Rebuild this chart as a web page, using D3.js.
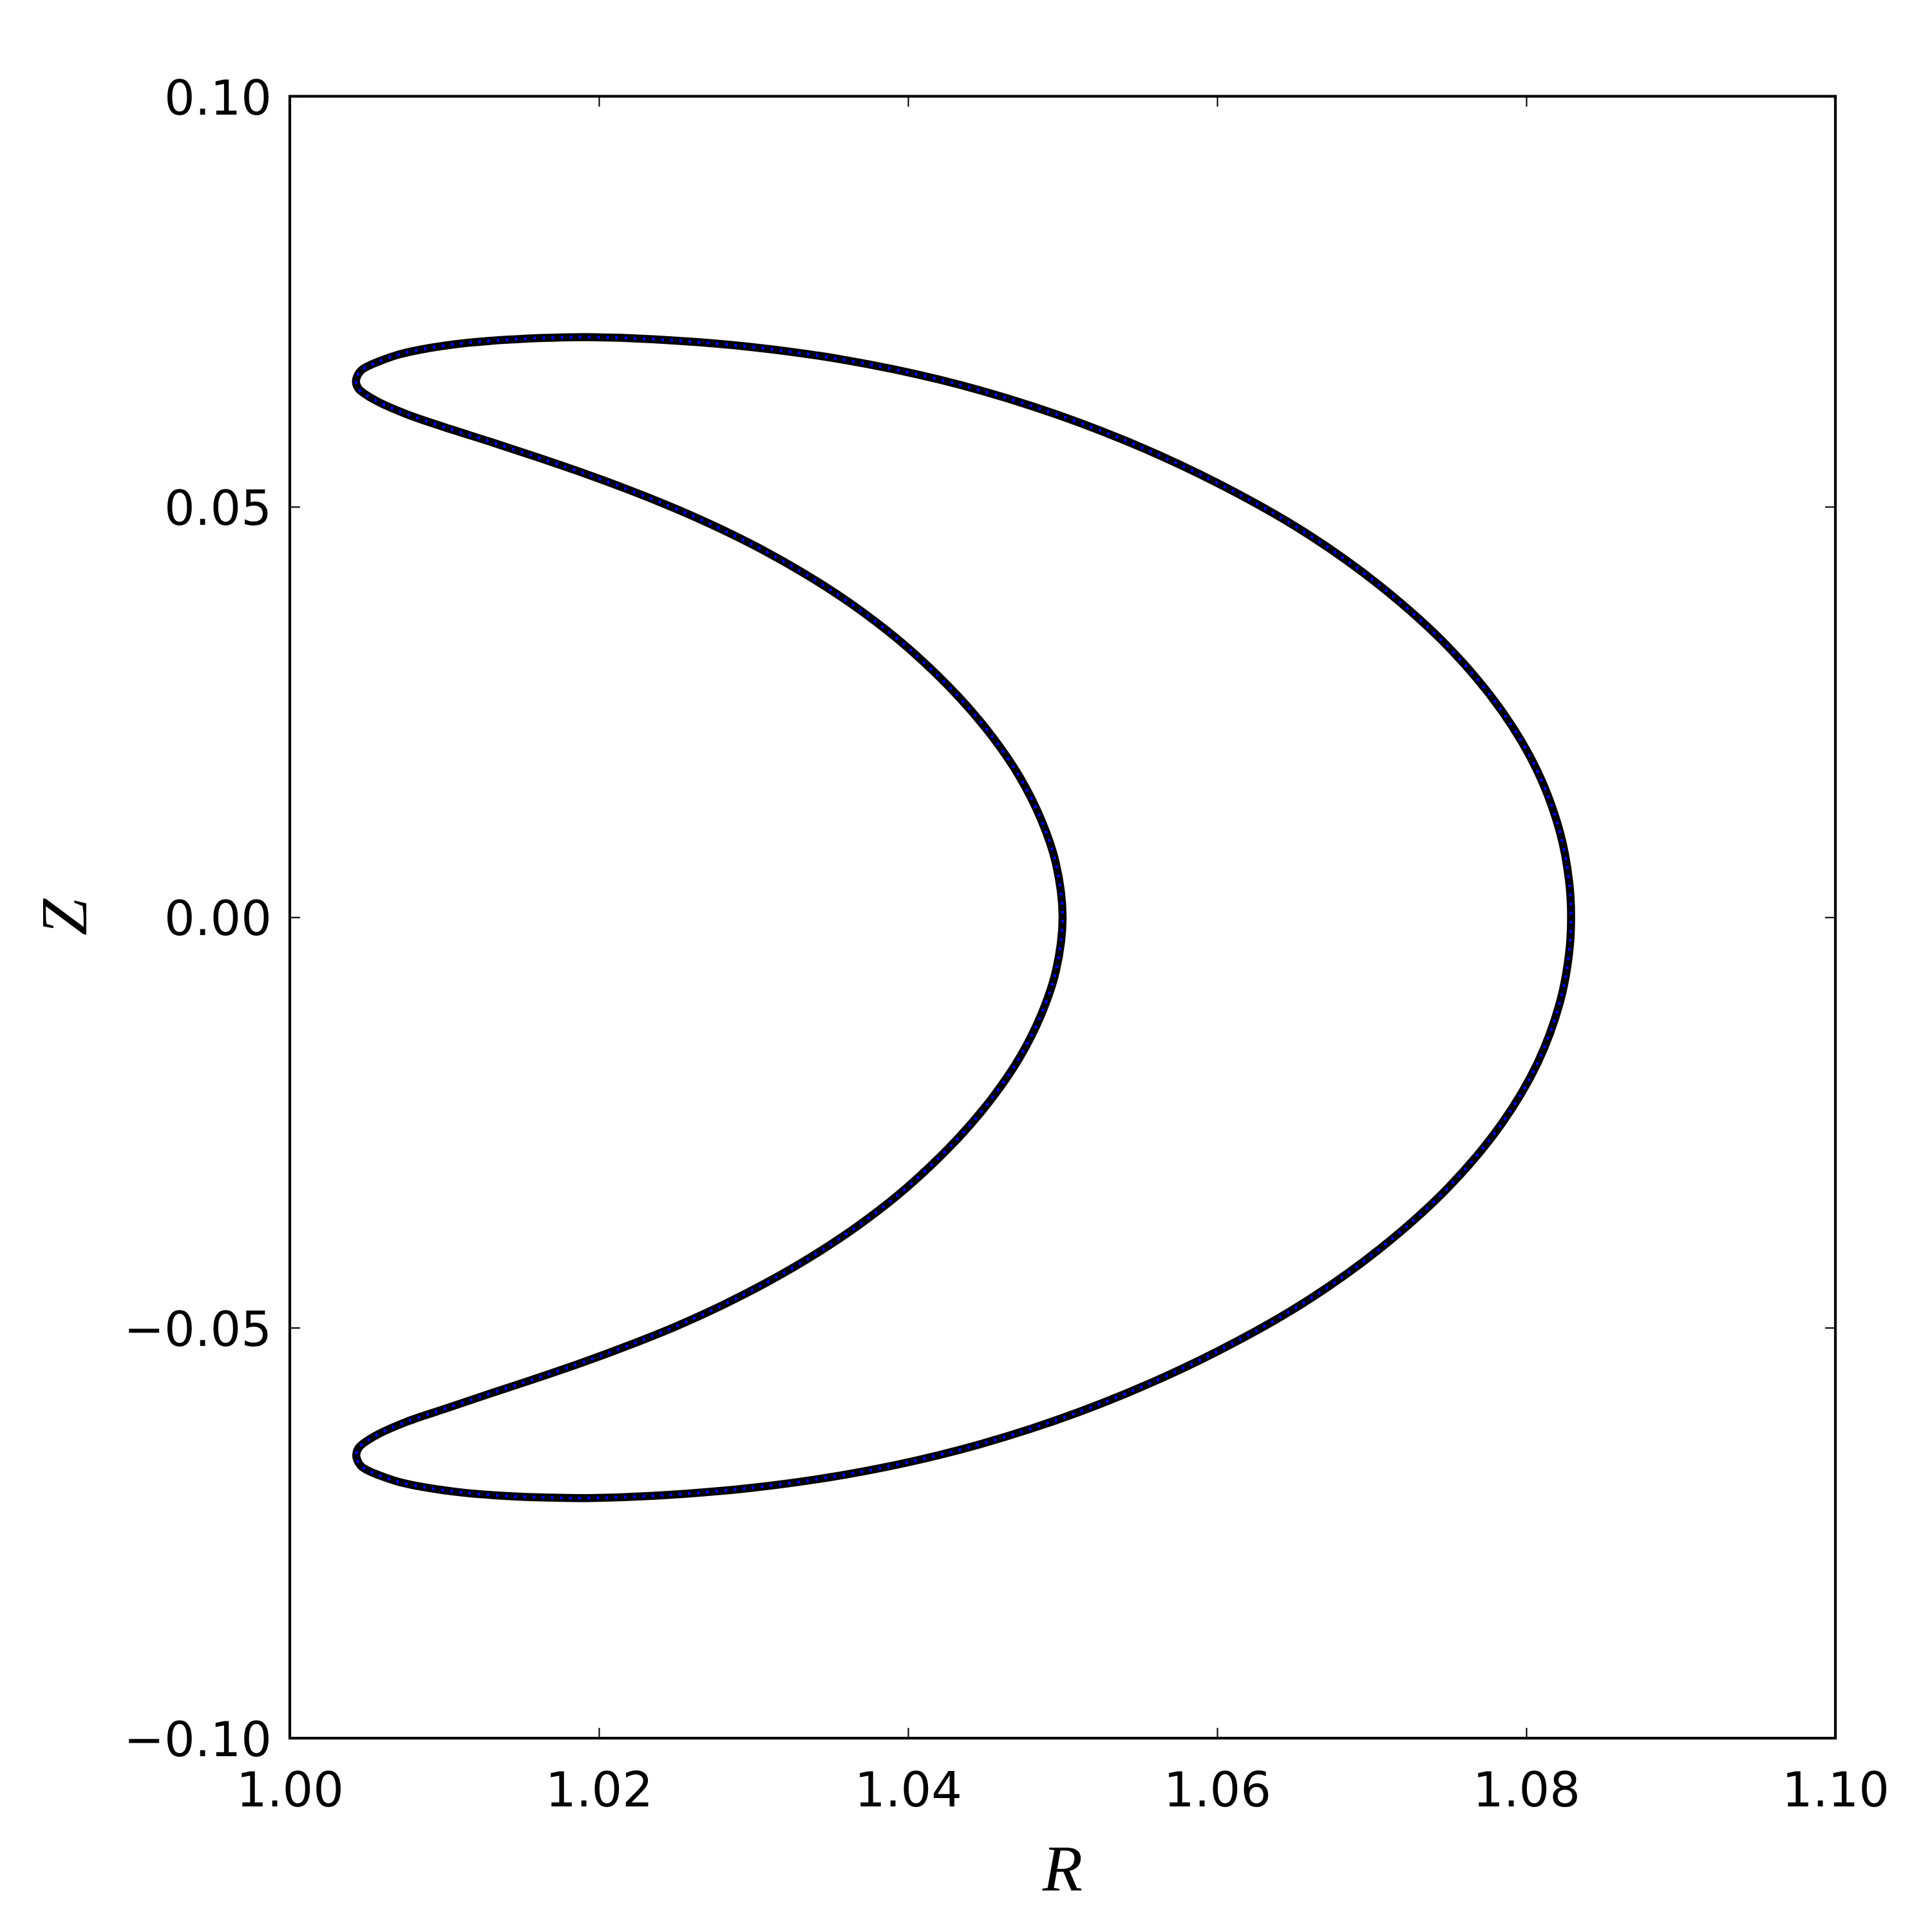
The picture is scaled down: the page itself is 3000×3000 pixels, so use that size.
<!DOCTYPE html>
<html>
<head>
<meta charset="utf-8">
<script src="https://cdn.jsdelivr.net/npm/d3@7"></script>
<style>
  html, body { margin: 0; padding: 0; background: #fff; }
  svg { display: block; }
</style>
</head>
<body>
<svg id="chart" width="3000" height="3000"></svg>
<script>
// ---- data ----
const xTicks = [1.00, 1.02, 1.04, 1.06, 1.08, 1.10];
const xTickLabels = ["1.00", "1.02", "1.04", "1.06", "1.08", "1.10"];
const yTicks = [-0.10, -0.05, 0.00, 0.05, 0.10];
const yTickLabels = ["\u22120.10", "\u22120.05", "0.00", "0.05", "0.10"];
const xLabel = "R";
const yLabel = "Z";

// upper half, outer boundary: from upper tip to outer midplane point
const topOuterR = [1.00428, 1.00442, 1.00466, 1.00512, 1.00583, 1.00708, 1.00889, 1.01125, 1.01403, 1.0168, 1.0193, 1.0240, 1.0300, 1.0360, 1.0420, 1.0480, 1.0540, 1.0600, 1.06558, 1.07054, 1.07499, 1.07843, 1.08074, 1.08218, 1.08277, 1.0829];
const topOuterZ = [0.06525, 0.06612, 0.06668, 0.06718, 0.06775, 0.06856, 0.06929, 0.06992, 0.07034, 0.07058, 0.07066, 0.07035, 0.06943, 0.06785, 0.0655, 0.06227, 0.0581, 0.0529, 0.0470, 0.04037, 0.03285, 0.02509, 0.01772, 0.01035, 0.0044, 0.0];
// upper half, inner boundary: from upper tip to inner midplane point
const topInnerR = [1.00445, 1.0055, 1.0075, 1.0100, 1.0130, 1.0160, 1.0190, 1.0220, 1.0250, 1.0280, 1.0310, 1.0340, 1.0370, 1.0400, 1.0433, 1.04545, 1.04722, 1.04862, 1.04956, 1.0500];
const topInnerZ = [0.06438, 0.0630, 0.06132, 0.0597, 0.0579, 0.05604, 0.0541, 0.05201, 0.04973, 0.04719, 0.04433, 0.04105, 0.03726, 0.0328, 0.0268, 0.0220, 0.0171, 0.01185, 0.0066, 0.0];
// lower half, outer boundary: from lower tip to outer midplane point
const botOuterR = [1.0043, 1.00444, 1.00468, 1.00514, 1.00585, 1.00708, 1.00889, 1.01125, 1.01403, 1.0168, 1.0193, 1.0240, 1.0300, 1.0360, 1.0420, 1.0480, 1.0540, 1.0600, 1.06558, 1.07054, 1.07499, 1.07843, 1.08074, 1.08218, 1.08277, 1.0829];
const botOuterZ = [-0.06555, -0.06642, -0.06698, -0.06748, -0.06803, -0.0688, -0.0695, -0.0701, -0.0705, -0.0707, -0.07075, -0.07042, -0.06948, -0.06788, -0.06552, -0.06228, -0.0581, -0.0529, -0.0470, -0.04037, -0.03285, -0.02509, -0.01772, -0.01035, -0.0044, 0.0];
// lower half, inner boundary: from lower tip to inner midplane point
const botInnerR = [1.00447, 1.0055, 1.0075, 1.0100, 1.0130, 1.0160, 1.0190, 1.0220, 1.0250, 1.0280, 1.0310, 1.0340, 1.0370, 1.0400, 1.0433, 1.04545, 1.04722, 1.04862, 1.04956, 1.0500];
const botInnerZ = [-0.0646, -0.0632, -0.0615, -0.0599, -0.0580, -0.05614, -0.0542, -0.0521, -0.04983, -0.04725, -0.04435, -0.04105, -0.03726, -0.0328, -0.0268, -0.0220, -0.0171, -0.01185, -0.0066, 0.0];

// ---- layout ----
const W = 3000, H = 3000;
const mLeft = 450, mRight = 2850, mTop = 149.5, mBottom = 2699;

const svg = d3.select("#chart");
svg.append("rect").attr("width", W).attr("height", H).attr("fill", "#fff");

const x = d3.scaleLinear().domain([1.00, 1.10]).range([mLeft, mRight]);
const y = d3.scaleLinear().domain([-0.10, 0.10]).range([mBottom, mTop]);

// build closed contour
const zip = (a, b) => a.map((v, i) => [v, b[i]]);
let pts = [];
pts = pts.concat(zip(topOuterR, topOuterZ));                    // top tip -> outer midplane
pts = pts.concat(zip(botOuterR, botOuterZ).reverse().slice(1)); // outer midplane -> bottom tip
pts = pts.concat(zip(botInnerR, botInnerZ));                    // bottom tip side -> inner midplane
pts = pts.concat(zip(topInnerR, topInnerZ).reverse().slice(1)); // inner midplane -> top tip side

const line = d3.line()
  .x(d => x(d[0]))
  .y(d => y(d[1]))
  .curve(d3.curveCatmullRomClosed.alpha(0.5));

const plot = svg.append("g");

plot.append("path")
  .attr("d", line(pts))
  .attr("fill", "none")
  .attr("stroke", "#000")
  .attr("stroke-width", 12.5)
  .attr("stroke-linejoin", "round");

plot.append("path")
  .attr("d", line(pts))
  .attr("fill", "none")
  .attr("stroke", "#0000ff")
  .attr("stroke-width", 5)
  .attr("stroke-linecap", "round")
  .attr("stroke-dasharray", "0.01 14.2");

// ---- axes (inward ticks on all four sides) ----
const tickLen = 16;
const fontFamily = "'DejaVu Sans', sans-serif";

const axB = d3.axisBottom(x).tickValues(xTicks).tickSizeInner(-tickLen).tickSizeOuter(0).tickFormat((d, i) => xTickLabels[i]);
const axT = d3.axisTop(x).tickValues(xTicks).tickSizeInner(-tickLen).tickSizeOuter(0).tickFormat("");
const axL = d3.axisLeft(y).tickValues(yTicks).tickSizeInner(-tickLen).tickSizeOuter(0).tickFormat((d, i) => yTickLabels[i]);
const axR = d3.axisRight(y).tickValues(yTicks).tickSizeInner(-tickLen).tickSizeOuter(0).tickFormat("");

function style(g) {
  g.select(".domain").remove();
  g.selectAll(".tick line").attr("stroke", "#000").attr("stroke-width", 2.1);
  g.selectAll(".tick text").attr("fill", "#000").attr("font-family", fontFamily).attr("font-size", 75);
}

const gB = svg.append("g").attr("transform", `translate(0,${mBottom})`).call(axB).call(style);
gB.selectAll(".tick text").attr("y", 106).attr("dy", null);

svg.append("g").attr("transform", `translate(0,${mTop})`).call(axT).call(style);

const gL = svg.append("g").attr("transform", `translate(${mLeft},0)`).call(axL).call(style);
gL.selectAll(".tick text").attr("x", -28).attr("dy", null).attr("y", 27.5);

svg.append("g").attr("transform", `translate(${mRight},0)`).call(axR).call(style);

// frame
svg.append("rect")
  .attr("x", mLeft).attr("y", mTop)
  .attr("width", mRight - mLeft).attr("height", mBottom - mTop)
  .attr("fill", "none").attr("stroke", "#000").attr("stroke-width", 4.2);

// axis labels
svg.append("text")
  .attr("x", (mLeft + mRight) / 2).attr("y", 2936)
  .attr("text-anchor", "middle")
  .attr("font-family", "'Liberation Serif', 'DejaVu Serif', serif")
  .attr("font-style", "italic")
  .attr("font-size", 102)
  .text(xLabel);

svg.append("text")
  .attr("transform", `translate(134,${(mTop + mBottom) / 2}) rotate(-90)`)
  .attr("text-anchor", "middle")
  .attr("font-family", "'Liberation Serif', 'DejaVu Serif', serif")
  .attr("font-style", "italic")
  .attr("font-size", 102)
  .text(yLabel);
</script>
</body>
</html>
